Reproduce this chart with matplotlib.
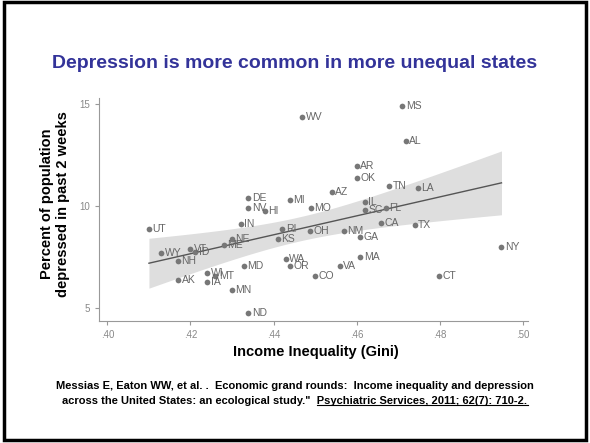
import numpy as np
import matplotlib.pyplot as plt
from matplotlib.patches import Rectangle

# State-level data
states = ["UT", "WY", "VT", "ID", "NH", "AK", "WI", "MT", "IA", "MN", "ND",
          "MD", "ME", "NE", "IN", "DE", "NV", "HI", "MI", "MO", "WV", "RI",
          "KS", "OH", "WA", "OR", "CO", "AZ", "NM", "VA", "MA", "GA", "AR",
          "OK", "IL", "SC", "FL", "CA", "TN", "MS", "AL", "LA", "TX", "CT", "NY"]
gini = [0.4100, 0.4130, 0.4199, 0.4211, 0.4170, 0.4170, 0.4240, 0.4260,
        0.4240, 0.4300, 0.4339, 0.4329, 0.4281, 0.4300, 0.4321, 0.4339,
        0.4339, 0.4379, 0.4439, 0.4490, 0.4469, 0.4421, 0.4410, 0.4489,
        0.4429, 0.4440, 0.4499, 0.4540, 0.4569, 0.4560, 0.4609, 0.4609,
        0.4600, 0.4600, 0.4620, 0.4620, 0.4670, 0.4660, 0.4678, 0.4710,
        0.4718, 0.4748, 0.4740, 0.4799, 0.4949]
depressed = [8.88, 7.69, 7.90, 7.74, 7.32, 6.39, 6.74, 6.58, 6.30, 5.90, 4.78,
             7.09, 8.10, 8.39, 9.11, 10.38, 9.89, 9.78, 10.30, 9.89, 14.38, 8.88,
             8.39, 8.78, 7.40, 7.09, 6.58, 10.71, 8.78, 7.09, 7.50, 8.48, 11.98,
             11.36, 10.22, 9.81, 9.89, 9.19, 10.99, 14.90, 13.19, 10.90, 9.09,
             6.58, 7.99]

xticks = [0.40, 0.42, 0.44, 0.46, 0.48, 0.50]
xtick_labels = [".40", ".42", ".44", ".46", ".48", ".50"]
yticks = [5, 10, 15]

plt.rcParams['font.family'] = ['Liberation Sans', 'DejaVu Sans']

fig = plt.figure(figsize=(5.9, 4.43), dpi=100)
ax = fig.add_axes([0.168, 0.2765, 0.727, 0.5025])

# linear fit with 95% CI of the mean
x = np.array(gini)
y = np.array(depressed)
b, a = np.polyfit(x, y, 1)
xs = np.linspace(x.min(), x.max(), 200)
fit = a + b * xs
n = len(x)
s = np.sqrt(np.sum((y - (a + b * x)) ** 2) / (n - 2))
se = s * np.sqrt(1 / n + (xs - x.mean()) ** 2 / np.sum((x - x.mean()) ** 2))
t = 2.017
ax.fill_between(xs, fit - t * se, fit + t * se, color="#dedede", lw=0, zorder=1)
ax.plot(xs, fit, color="#555555", lw=1, zorder=2)

ax.scatter(x, y, s=17, color="#777777", linewidths=0, zorder=3)
for st, xi, yi in zip(states, gini, depressed):
    ax.annotate(st, (xi, yi), xytext=(2.5, 0), textcoords="offset points",
                ha="left", va="center", fontsize=7.5, color="#666666", zorder=4)

ax.set_xlim(0.398, 0.5013)
ax.set_ylim(4.40, 15.29)
ax.set_xticks(xticks)
ax.set_xticklabels(xtick_labels)
ax.set_yticks(yticks)
for side in ["top", "right"]:
    ax.spines[side].set_visible(False)
for side in ["left", "bottom"]:
    ax.spines[side].set_color("#999999")
    ax.spines[side].set_linewidth(0.8)
ax.tick_params(colors="#999999", labelcolor="#888888", labelsize=7,
               length=3, width=0.8)

fig.text(0.5, 1 - 63 / 443, "Depression is more common in more unequal states",
         ha="center", va="center", fontsize=14, fontweight="bold", color="#333399")
fig.text(316 / 590, 1 - 352 / 443, "Income Inequality (Gini)",
         ha="center", va="center", fontsize=10.5, fontweight="bold")
fig.text(55 / 590, 1 - 204 / 443, "Percent of population\ndepressed in past 2 weeks",
         ha="center", va="center", rotation=90, fontsize=10.5, fontweight="bold",
         linespacing=1.2, multialignment="center")

# citation, second part underlined
fig.text(0.5, 1 - 386 / 443,
         "Messias E, Eaton WW, et al. .  Economic grand rounds:  Income inequality and depression",
         ha="center", va="center", fontsize=8, fontweight="bold")
prefix = 'across the United States: an ecological study."  '
journal = "Psychiatric Services, 2011; 62(7): 710-2."
line2 = fig.text(0.5, 1 - 401 / 443, prefix + journal,
                 ha="center", va="center", fontsize=8, fontweight="bold")
r = fig.canvas.get_renderer()
bb = line2.get_window_extent(r)
tmp = fig.text(0, 0, journal, fontsize=8, fontweight="bold")
jw = tmp.get_window_extent(r).width
tmp.remove()
W, H = fig.get_size_inches() * fig.dpi
uy = (bb.y0 + 1) / H
fig.add_artist(plt.Line2D([(bb.x1 - jw) / W, bb.x1 / W], [uy, uy],
                          color="black", lw=0.8))

fig.add_artist(Rectangle((0.006, 0.006), 0.988, 0.99, transform=fig.transFigure,
                         fill=False, edgecolor="black", lw=2.5))

fig.savefig("out.png", dpi=100)
